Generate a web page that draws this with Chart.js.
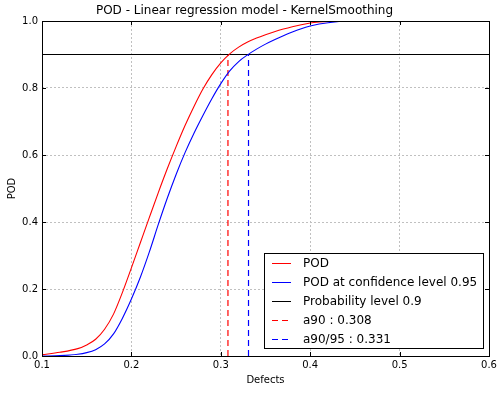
<!DOCTYPE html>
<html>
<head>
<meta charset="utf-8">
<script src="https://cdn.jsdelivr.net/npm/chart.js@4"></script>
<style>
  html, body { margin: 0; padding: 0; background: #fff; }
  #wrap { width: 503px; height: 393px; }
</style>
</head>
<body>
<div id="wrap"><canvas id="chart" width="503" height="393"></canvas></div>
<script>
// values
const defects = [0.10, 0.12, 0.14, 0.15, 0.16, 0.17, 0.18, 0.19, 0.20, 0.21, 0.22, 0.23, 0.24, 0.25, 0.26, 0.27, 0.28, 0.29, 0.30, 0.31, 0.32, 0.33, 0.34, 0.35, 0.36, 0.37, 0.38, 0.39, 0.40, 0.41, 0.42, 0.43, 0.44, 0.45];
const pod = [0.004, 0.011, 0.022, 0.033, 0.05, 0.08, 0.125, 0.19, 0.263, 0.338, 0.413, 0.487, 0.558, 0.625, 0.688, 0.745, 0.797, 0.84, 0.875, 0.902, 0.922, 0.937, 0.949, 0.959, 0.968, 0.976, 0.983, 0.989, 0.994, 0.997, 0.999, 1.0, 1.0, 1.0];
const podConf = [0.0, 0.001, 0.005, 0.01, 0.019, 0.036, 0.066, 0.113, 0.17, 0.235, 0.31, 0.392, 0.47, 0.542, 0.607, 0.665, 0.718, 0.768, 0.813, 0.851, 0.879, 0.899, 0.916, 0.931, 0.944, 0.956, 0.967, 0.977, 0.985, 0.991, 0.995, 0.998, 1.0, 1.0];
const confLevel = 0.95;
const probLevel = 0.9;
const a90 = 0.308;
const a9095 = 0.331;
const xTicks = [0.1, 0.2, 0.3, 0.4, 0.5, 0.6];
const yTicks = [0.0, 0.2, 0.4, 0.6, 0.8, 1.0];

const FONT = "'DejaVu Sans', sans-serif";

function toPoints(xs, ys) {
  return xs.map((x, i) => ({ x: x, y: ys[i] }));
}

// box around the plot, inward ticks, and the legend in the lower right
const framePlugin = {
  id: 'frame',
  afterDatasetsDraw(chart) {
    const { ctx, chartArea: a, scales } = chart;
    ctx.save();
    ctx.strokeStyle = '#000';
    ctx.lineWidth = 1;
    ctx.setLineDash([]);
    ctx.beginPath();
    xTicks.forEach(v => {
      const px = Math.round(scales.x.getPixelForValue(v)) + 0.5;
      ctx.moveTo(px, a.bottom); ctx.lineTo(px, a.bottom - 4);
      ctx.moveTo(px, a.top); ctx.lineTo(px, a.top + 4);
    });
    yTicks.forEach(v => {
      const py = Math.round(scales.y.getPixelForValue(v)) + 0.5;
      ctx.moveTo(a.left, py); ctx.lineTo(a.left + 4, py);
      ctx.moveTo(a.right, py); ctx.lineTo(a.right - 4, py);
    });
    ctx.stroke();
    ctx.strokeRect(Math.round(a.left) + 0.5, Math.round(a.top) + 0.5,
      Math.round(a.right - a.left), Math.round(a.bottom - a.top));
    ctx.restore();
  },
  afterDraw(chart) {
    const { ctx, chartArea: a } = chart;
    const sets = chart.data.datasets;
    ctx.save();
    ctx.font = '12px ' + FONT;
    let w = 0;
    sets.forEach(d => { w = Math.max(w, ctx.measureText(d.label).width); });
    const rowH = 19;
    const boxW = Math.round(w + 45);
    const boxH = sets.length * rowH;
    const right = Math.round(a.right) - 6;
    const bottom = Math.round(a.bottom) - 8;
    const left = right - boxW;
    const top = bottom - boxH;
    ctx.fillStyle = '#fff';
    ctx.fillRect(left, top, boxW, boxH);
    ctx.strokeStyle = '#000';
    ctx.lineWidth = 1;
    ctx.strokeRect(left + 0.5, top + 0.5, boxW, boxH);
    sets.forEach((d, i) => {
      const cy = Math.round(top + 10 + i * rowH) + 0.5;
      ctx.strokeStyle = d.borderColor;
      ctx.lineWidth = 1;
      ctx.setLineDash(d.borderDash || []);
      ctx.beginPath();
      ctx.moveTo(left + 8, cy);
      ctx.lineTo(left + 27, cy);
      ctx.stroke();
      ctx.setLineDash([]);
      ctx.fillStyle = '#000';
      ctx.textBaseline = 'middle';
      ctx.textAlign = 'left';
      ctx.fillText(d.label, left + 39, cy);
    });
    ctx.restore();
  }
};

new Chart(document.getElementById('chart'), {
  type: 'line',
  data: {
    datasets: [
      {
        label: 'POD',
        data: toPoints(defects, pod),
        borderColor: '#ff0000',
        borderWidth: 1.1,
        cubicInterpolationMode: 'monotone'
      },
      {
        label: 'POD at confidence level ' + confLevel,
        data: toPoints(defects, podConf),
        borderColor: '#0000ff',
        borderWidth: 1.1,
        cubicInterpolationMode: 'monotone'
      },
      {
        label: 'Probability level ' + probLevel,
        data: [{ x: xTicks[0], y: probLevel }, { x: xTicks[xTicks.length - 1], y: probLevel }],
        borderColor: '#000000',
        borderWidth: 1.1
      },
      {
        label: 'a90 : ' + a90.toFixed(3),
        data: [{ x: a90, y: 0 }, { x: a90, y: probLevel }],
        borderColor: '#ff0000',
        borderWidth: 1.2,
        borderDash: [6, 4]
      },
      {
        label: 'a90/95 : ' + a9095.toFixed(3),
        data: [{ x: a9095, y: 0 }, { x: a9095, y: probLevel }],
        borderColor: '#0000ff',
        borderWidth: 1.2,
        borderDash: [6, 4]
      }
    ]
  },
  options: {
    responsive: false,
    animation: false,
    devicePixelRatio: 1,
    layout: { padding: { left: 0, right: 14, top: 0, bottom: 0 } },
    elements: { point: { radius: 0 } },
    plugins: {
      legend: { display: false },
      tooltip: { enabled: false },
      title: {
        display: true,
        text: 'POD - Linear regression model - KernelSmoothing',
        color: '#000',
        font: { family: FONT, size: 12, weight: 'normal', lineHeight: 1.2 },
        padding: { top: 4, bottom: 2.6 }
      }
    },
    scales: {
      x: {
        type: 'linear',
        min: 0.1,
        max: 0.6,
        afterFit(s) { s.height = 37; },
        afterBuildTicks(s) { s.ticks = xTicks.map(v => ({ value: v })); },
        ticks: {
          color: '#000',
          padding: 3,
          maxRotation: 0,
          font: { family: FONT, size: 10 },
          callback: v => v.toFixed(1)
        },
        grid: { color: '#c0c0c0', lineWidth: 1, drawTicks: false },
        border: { display: false, dash: [2, 2] },
        title: {
          display: true,
          text: 'Defects',
          color: '#000',
          font: { family: FONT, size: 10 },
          padding: { top: 0, bottom: 7 }
        }
      },
      y: {
        min: 0,
        max: 1,
        afterFit(s) { s.width = 42; },
        afterBuildTicks(s) { s.ticks = yTicks.map(v => ({ value: v })); },
        ticks: {
          color: '#000',
          padding: 4,
          font: { family: FONT, size: 10 },
          callback: v => v.toFixed(1)
        },
        grid: { color: '#c0c0c0', lineWidth: 1, drawTicks: false },
        border: { display: false, dash: [2, 2] },
        title: {
          display: true,
          text: 'POD',
          color: '#000',
          font: { family: FONT, size: 10 },
          padding: { top: 6, bottom: 0 }
        }
      }
    }
  },
  plugins: [framePlugin]
});
</script>
</body>
</html>
